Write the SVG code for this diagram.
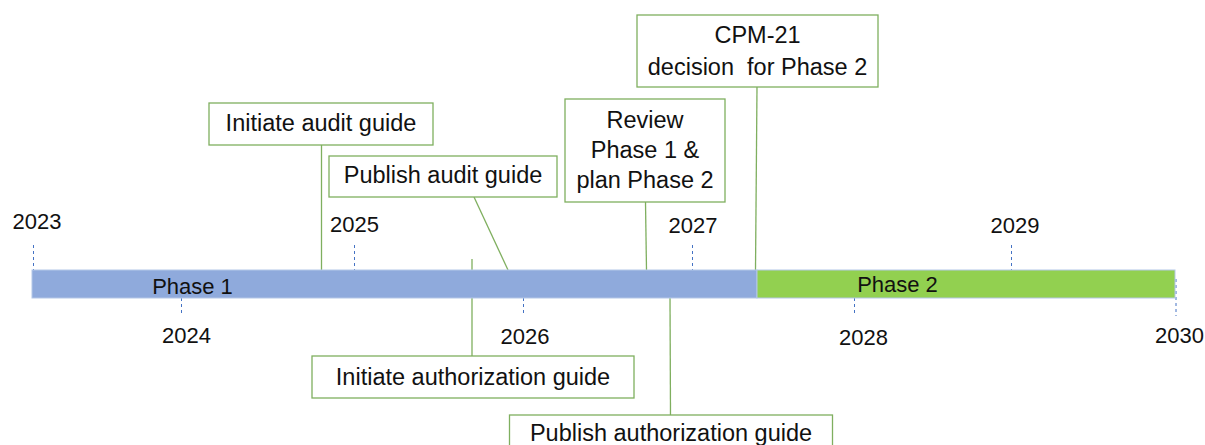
<svg xmlns="http://www.w3.org/2000/svg" width="1205" height="445" viewBox="0 0 1205 445">
<style>
.box{fill:#fff;stroke:#7FAF5F;stroke-width:1.3}
.lbl{font-family:"Liberation Sans",Arial,sans-serif;font-size:23.5px;fill:#111;text-anchor:middle}
.yr{font-family:"Liberation Sans",Arial,sans-serif;font-size:22px;fill:#111;text-anchor:middle}
.tick{stroke:#4472C4;stroke-width:1;stroke-dasharray:3,3}
.conn{stroke:#7FAF5F;stroke-width:1.3;fill:none}
</style>
<rect width="1205" height="445" fill="#fff"/>
<g id="connectors">
<line class="conn" x1="321.5" y1="145" x2="321.5" y2="270"/>
<line class="conn" x1="474" y1="197" x2="508" y2="270"/>
<line class="conn" x1="645.5" y1="202" x2="646.5" y2="270"/>
<line class="conn" x1="757" y1="87" x2="755.5" y2="270"/>
<line class="conn" x1="472" y1="259" x2="472" y2="356"/>
<line class="conn" x1="670" y1="298" x2="670.5" y2="415"/>
</g>
<g id="ticks">
<line class="tick" x1="33.5" y1="245" x2="33.5" y2="270"/>
<line class="tick" x1="181.5" y1="298" x2="181.5" y2="316"/>
<line class="tick" x1="354.5" y1="245" x2="354.5" y2="270"/>
<line class="tick" x1="523.5" y1="298" x2="523.5" y2="316"/>
<line class="tick" x1="692.5" y1="245" x2="692.5" y2="270"/>
<line class="tick" x1="854.5" y1="298" x2="854.5" y2="316"/>
<line class="tick" x1="1011.5" y1="245" x2="1011.5" y2="270"/>
<line class="tick" x1="1176" y1="279" x2="1176" y2="316"/>
</g>
<g id="phase1">
<rect x="32" y="270" width="725" height="28" fill="#8FAADC" stroke="#B4C7E7" stroke-width="1"/>
<text class="yr" x="192.5" y="294">Phase 1</text>
</g>
<g id="phase2">
<rect x="757" y="270" width="418" height="28" fill="#92D050" stroke="#B4C7E7" stroke-width="1"/>
<text class="yr" x="897.5" y="292">Phase 2</text>
</g>
<g id="years">
<text class="yr" x="37" y="229">2023</text>
<text class="yr" x="186.5" y="343">2024</text>
<text class="yr" x="354.5" y="232">2025</text>
<text class="yr" x="525" y="344">2026</text>
<text class="yr" x="693" y="233">2027</text>
<text class="yr" x="863.5" y="345">2028</text>
<text class="yr" x="1015" y="233">2029</text>
<text class="yr" x="1179.5" y="343">2030</text>
</g>
<g id="initiate-audit">
<rect class="box" x="209" y="103" width="224" height="42"/>
<text class="lbl" x="321" y="131">Initiate audit guide</text>
</g>
<g id="publish-audit">
<rect class="box" x="329" y="156" width="228" height="41"/>
<text class="lbl" x="443" y="183">Publish audit guide</text>
</g>
<g id="review">
<rect class="box" x="565" y="99" width="160" height="103"/>
<text class="lbl" x="645" y="128">Review</text>
<text class="lbl" x="645" y="158">Phase 1 &amp;</text>
<text class="lbl" x="645" y="188">plan Phase 2</text>
</g>
<g id="cpm21">
<rect class="box" x="637" y="15" width="241" height="72"/>
<text class="lbl" x="757.5" y="43">CPM-21</text>
<text class="lbl" x="757.5" y="75" xml:space="preserve">decision  for Phase 2</text>
</g>
<g id="initiate-authorization">
<rect class="box" x="312" y="356" width="322" height="42"/>
<text class="lbl" x="473" y="385">Initiate authorization guide</text>
</g>
<g id="publish-authorization">
<rect class="box" x="509.5" y="415" width="323" height="40"/>
<text class="lbl" x="671" y="441">Publish authorization guide</text>
</g>
</svg>
